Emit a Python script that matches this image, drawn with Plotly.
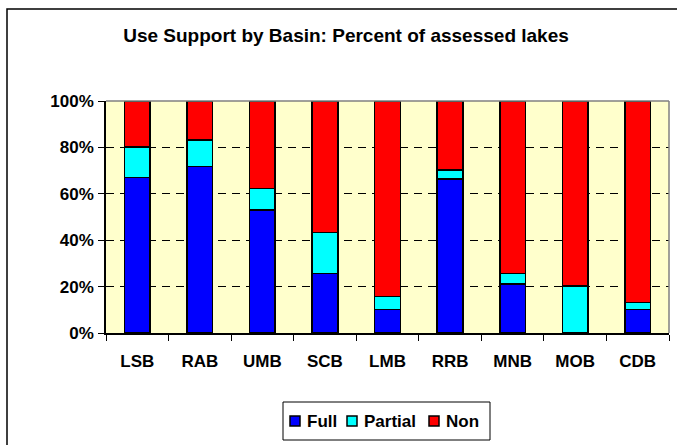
import plotly.graph_objects as go

# Bacias e percentuais
basins = ['LSB', 'RAB', 'UMB', 'SCB', 'LMB', 'RRB', 'MNB', 'MOB', 'CDB']
full = [67.1, 71.7, 53.0, 25.7, 10.2, 66.4, 21.1, 0.0, 10.2]
partial = [13.1, 11.5, 9.2, 17.7, 5.5, 3.9, 4.6, 20.3, 3.0]
non = [19.8, 16.8, 37.8, 56.6, 84.3, 29.7, 74.3, 79.7, 86.8]
y_ticks = [0, 20, 40, 60, 80, 100]
y_labels = ['0%', '20%', '40%', '60%', '80%', '100%']

FONT = 'Liberation Sans'
series = [('Full', full, '#0000FF'),
          ('Partial', partial, '#00FFFF'),
          ('Non', non, '#FF0000')]

# Área do gráfico em pixels (para converter posições em coordenadas 'paper')
L, R, T, B = 106, 669, 101, 333


def px(x):
    return (x - L) / (R - L)


def py(y):
    return (B - y) / (B - T)


fig = go.Figure()
for name, vals, cor in series:
    fig.add_bar(x=basins, y=vals, name=name, width=0.41, showlegend=False,
                marker=dict(color=cor, line=dict(color='black', width=1.5)))

fig.update_layout(
    width=677, height=445,
    barmode='stack',
    paper_bgcolor='white',
    plot_bgcolor='#FFFFCC',
    margin=dict(l=L, r=677 - R, t=T, b=445 - B, autoexpand=False),
    font=dict(family=FONT, size=17, color='black'),
    title=dict(text='Use Support by Basin: Percent of assessed lakes',
               x=346 / 677, xref='container', xanchor='center',
               y=1 - 35 / 445, yref='container', yanchor='middle',
               font=dict(family=FONT, size=19, weight='bold')),
    xaxis=dict(showline=True, linecolor='black', linewidth=1.5,
               ticks='outside', tickson='boundaries', ticklen=6,
               tickcolor='black', showgrid=False,
               tickfont=dict(family=FONT, size=17, weight='bold'),
               ticklabelstandoff=12),
    yaxis=dict(range=[0, 100], tickvals=y_ticks, ticktext=y_labels,
               showline=True, linecolor='black',
               linewidth=1.5, ticks='outside', ticklen=6,
               tickcolor='black', showgrid=True, gridcolor='black',
               gridwidth=1, griddash='8px,6px', zeroline=False,
               tickfont=dict(family=FONT, size=17, weight='bold'),
               ticklabelstandoff=1),
)

# Borda cinza da área do gráfico (topo e direita)
fig.add_shape(type='line', xref='paper', yref='paper', x0=0, x1=1, y0=1, y1=1,
              line=dict(color='#808080', width=1.5))
fig.add_shape(type='line', xref='paper', yref='paper', x0=1, x1=1, y0=0, y1=1,
              line=dict(color='#808080', width=1.5))

# Moldura externa do gráfico
fig.add_shape(type='rect', xref='paper', yref='paper',
              x0=px(7), x1=px(690), y0=py(460), y1=py(9),
              line=dict(color='black', width=1.5))

# Legenda desenhada à mão (caixa, quadrados e textos)
fig.add_shape(type='rect', xref='paper', yref='paper',
              x0=px(283), x1=px(490), y0=py(440), y1=py(402),
              line=dict(color='black', width=1), fillcolor='white')
sym_x = [290, 347, 429]
for (name, _, cor), sx in zip(series, sym_x):
    fig.add_shape(type='rect', xref='paper', yref='paper',
                  x0=px(sx), x1=px(sx + 10), y0=py(426), y1=py(416),
                  line=dict(color='black', width=1.5), fillcolor=cor)
    fig.add_annotation(text=f'<b>{name}</b>', xref='paper', yref='paper',
                       x=px(sx + 15), y=py(421), xanchor='left',
                       yanchor='middle', showarrow=False,
                       font=dict(family=FONT, size=17))

# Tira a margem padrão do <body> para a figura começar no canto da página
fig.write_html('out.html', config={'displayModeBar': False},
               post_script="document.body.style.margin='0';")
